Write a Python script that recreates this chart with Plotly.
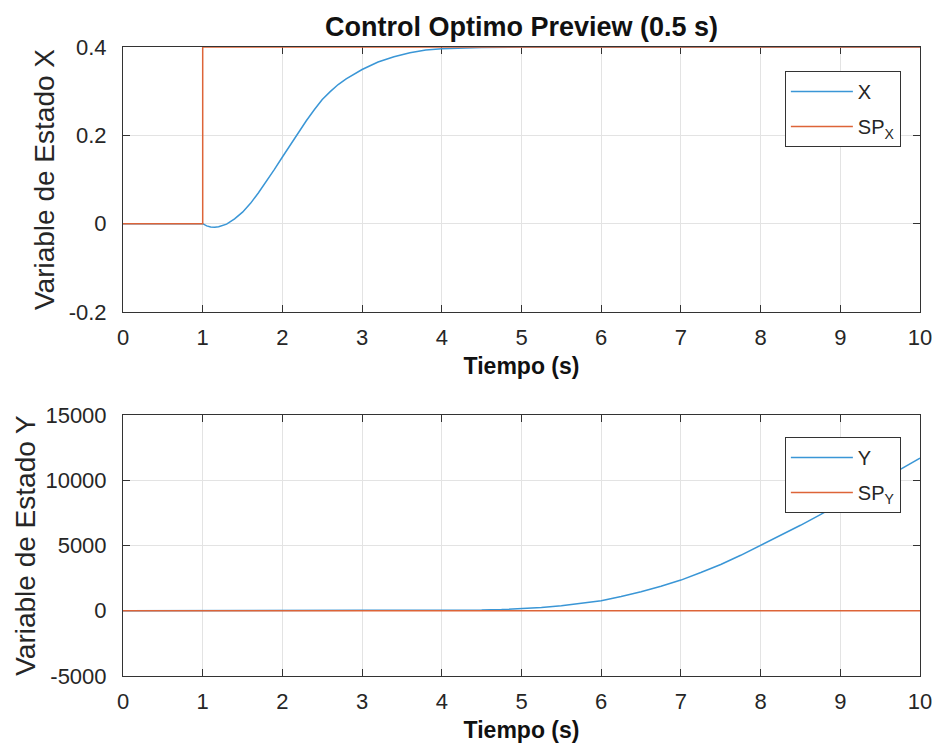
import plotly.graph_objects as go

# ---- data ----
t_x = [0, 1.0, 1.05, 1.1, 1.15, 1.2, 1.3, 1.4, 1.5, 1.6, 1.7, 1.8, 1.9, 2.0, 2.1, 2.2, 2.3, 2.4, 2.5,
       2.6, 2.7, 2.8, 2.9, 3.0, 3.2, 3.4, 3.6, 3.8, 4.0, 4.25, 4.5, 5.0, 6.0, 7.0, 8.0, 9.0, 10.0]
x_state = [0, 0, -0.005, -0.0075, -0.008, -0.007, -0.001, 0.011, 0.026, 0.046, 0.070, 0.096, 0.123,
           0.151, 0.179, 0.206, 0.233, 0.258, 0.281, 0.299, 0.315, 0.328, 0.339, 0.349, 0.366, 0.378,
           0.387, 0.393, 0.396, 0.398, 0.399, 0.4, 0.4, 0.4, 0.4, 0.4, 0.4]
t_spx = [0, 1, 1, 10]
sp_x = [0, 0, 0.4, 0.4]

t_y = [0, 1, 2, 3, 3.5, 4, 4.5, 4.75, 5, 5.25, 5.5, 5.75, 6, 6.25, 6.5, 6.75, 7, 7.25, 7.5, 7.75,
       8, 8.25, 8.5, 8.75, 9, 9.25, 9.5, 9.75, 10]
y_state = [0, 0, 0, 5, 10, 20, 50, 90, 150, 250, 380, 560, 770, 1090, 1450, 1880, 2350, 2930, 3550,
           4250, 5000, 5770, 6550, 7370, 8200, 9070, 9950, 10820, 11700]
t_spy = [0, 10]
sp_y = [0, 0]

x_ticks = list(range(0, 11))
x_tick_text = [str(v) for v in x_ticks]
y1_ticks = [-0.2, 0, 0.2, 0.4]
y1_tick_text = ["-0.2", "0", "0.2", "0.4"]
y2_ticks = [-5000, 0, 5000, 10000, 15000]
y2_tick_text = ["-5000", "0", "5000", "10000", "15000"]

title_text = "Control Optimo Preview (0.5 s)"
xlabel = "<b>Tiempo (s)</b>"
ylabel1 = "Variable de Estado X"
ylabel2 = "Variable de Estado Y"

BLUE = "#3A96D6"
ORANGE = "#DD6438"
FONT = "Liberation Sans, Arial, Helvetica, sans-serif"
AX = "#333333"
GRID = "#E3E3E3"

fig = go.Figure()
fig.add_trace(go.Scatter(x=t_x, y=x_state, mode="lines", name="X",
                         line=dict(color=BLUE, width=1.5),
                         xaxis="x", yaxis="y", legend="legend", legendgroup="a"))
fig.add_trace(go.Scatter(x=t_spx, y=sp_x, mode="lines", name="SP<sub>X</sub>",
                         line=dict(color=ORANGE, width=1.5), cliponaxis=False,
                         xaxis="x", yaxis="y", legend="legend", legendgroup="b"))
fig.add_trace(go.Scatter(x=t_y, y=y_state, mode="lines", name="Y",
                         line=dict(color=BLUE, width=1.5),
                         xaxis="x2", yaxis="y2", legend="legend2", legendgroup="c"))
fig.add_trace(go.Scatter(x=t_spy, y=sp_y, mode="lines", name="SP<sub>Y</sub>",
                         line=dict(color=ORANGE, width=1.5),
                         xaxis="x2", yaxis="y2", legend="legend2", legendgroup="d"))

common_axis = dict(
    showline=True, linecolor=AX, linewidth=1, mirror="allticks",
    ticks="inside", ticklen=7, tickcolor=AX, tickwidth=1,
    showgrid=True, gridcolor=GRID, gridwidth=1, zeroline=False,
    tickfont=dict(family=FONT, size=22, color="#262626"),
    layer="below traces", automargin=False,
)

xa = dict(common_axis, range=[0, 10], tickvals=x_ticks, ticktext=x_tick_text,
          ticklabelstandoff=6,
          title=dict(text=xlabel, font=dict(family=FONT, size=23, color="#111111"), standoff=8))

legend_style = dict(xanchor="right", yanchor="top", bgcolor="white", bordercolor=AX, borderwidth=1,
                    itemwidth=62, tracegroupgap=6,
                    font=dict(family=FONT, size=20, color="#262626"))

fig.update_layout(
    width=925, height=737,
    margin=dict(l=115, r=13, t=39, b=69),
    paper_bgcolor="white", plot_bgcolor="white",
    showlegend=True,
    title=dict(text="<b>" + title_text + "</b>", x=0.5, xref="paper", xanchor="center",
               y=0.988, yanchor="top",
               font=dict(family=FONT, size=27, color="#111111")),
    xaxis=dict(xa, domain=[0, 1], anchor="y"),
    xaxis2=dict(xa, domain=[0, 1], anchor="y2"),
    yaxis=dict(common_axis, domain=[0.5787, 1], anchor="x", range=[-0.2, 0.4],
               tickvals=y1_ticks, ticktext=y1_tick_text, ticklabelstandoff=11,
               title=dict(text=ylabel1, font=dict(family=FONT, size=28, color="#262626"), standoff=5)),
    yaxis2=dict(common_axis, domain=[0, 0.4149], anchor="x2", range=[-5000, 15000],
                tickvals=y2_ticks, ticktext=y2_tick_text, ticklabelstandoff=11,
                title=dict(text=ylabel2, font=dict(family=FONT, size=28, color="#262626"), standoff=1)),
    legend=dict(legend_style, x=0.976, y=0.9618),
    legend2=dict(legend_style, x=0.976, y=0.38),
)

fig.write_html("out.html")
